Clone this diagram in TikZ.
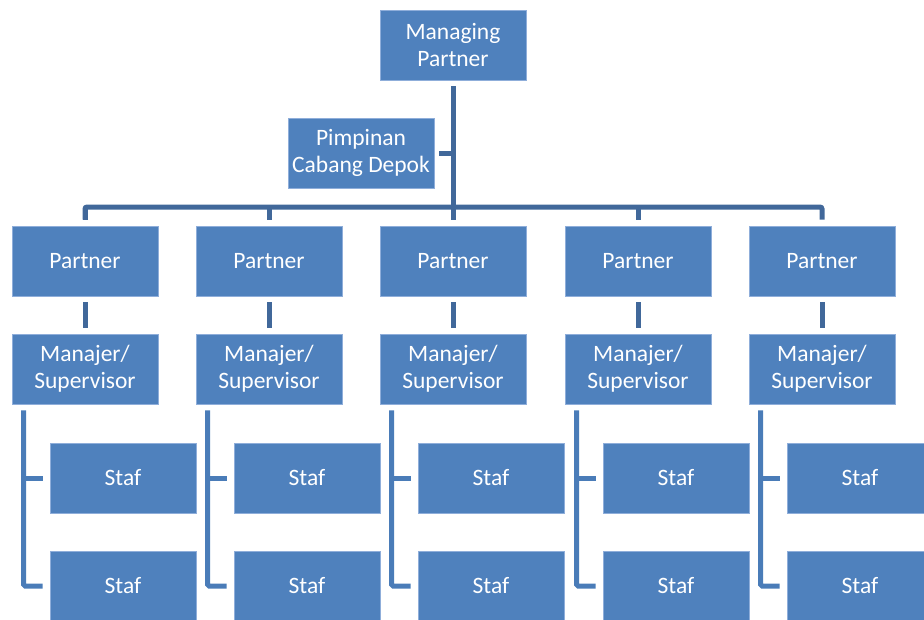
\documentclass[tikz,border=0pt]{standalone}
\usepackage{fontspec}
\setmainfont{Carlito}
\usetikzlibrary{calc}
\definecolor{boxfill}{HTML}{4F81BD}
\definecolor{boxline}{HTML}{8FAEDA}
\definecolor{conn}{HTML}{41689A}
\definecolor{connlight}{HTML}{4A7CB8}
\tikzset{
  box/.style={rectangle, fill=boxfill, draw=boxline, line width=0.6pt,
    minimum width=146pt, minimum height=70pt, inner sep=0pt, text=white,
    align=center, font=\fontsize{23.5}{27}\selectfont},
  link/.style={draw=conn, line width=5pt},
  stafflink/.style={draw=connlight, line width=5pt, rounded corners=1.5pt}
}
\begin{document}
\begin{tikzpicture}[x=1pt,y=-1pt]
\useasboundingbox (0,0) rectangle (924,619);
\begin{scope}
\clip (0,0) rectangle (924,619);
\node[box] (mp) at (453,45) {Managing\\Partner};
\node[box] (pcd) at (361,153) {Pimpinan\\Cabang Depok};
\foreach \i/\x in {1/85,2/269,3/453,4/638,5/822}{
  \node[box] (p\i) at (\x,261) {Partner};
  \node[box] (m\i) at (\x,369) {Manajer/\\Supervisor};
  \node[box] (sa\i) at (\x+38,478) {Staf};
  \node[box] (sb\i) at (\x+38,586) {Staf};
}
% top connectors
\coordinate (bus) at (453,207);
\draw[link] ($(mp.south)+(0,6)$) -- ($(p3.north)+(0,-6)$);
\draw[link] ($(pcd.east)+(5,0)$) -- (mp.south |- pcd.east);
\draw[link, rounded corners=2pt] ($(p1.north)+(0,-6)$) -- (p1.north |- bus) -- (p5.north |- bus) -- ($(p5.north)+(0,-6)$);
\foreach \i in {1,2,4}{
  \draw[link] (p\i.north |- bus) -- ($(p\i.north)+(0,-6)$);
}
\foreach \i in {1,...,5}{
  \draw[link] ($(p\i.south)+(0,6)$) -- ($(m\i.north)+(0,-6)$);
  \coordinate (t\i) at ($(m\i.south west)+(12,6)$);
  \draw[stafflink] (t\i) -- (t\i |- sb\i.west) -- ($(sb\i.west)+(-7,0)$);
  \draw[stafflink] (t\i |- sa\i.west) -- ($(sa\i.west)+(-7,0)$);
}
\end{scope}
\end{tikzpicture}
\end{document}
